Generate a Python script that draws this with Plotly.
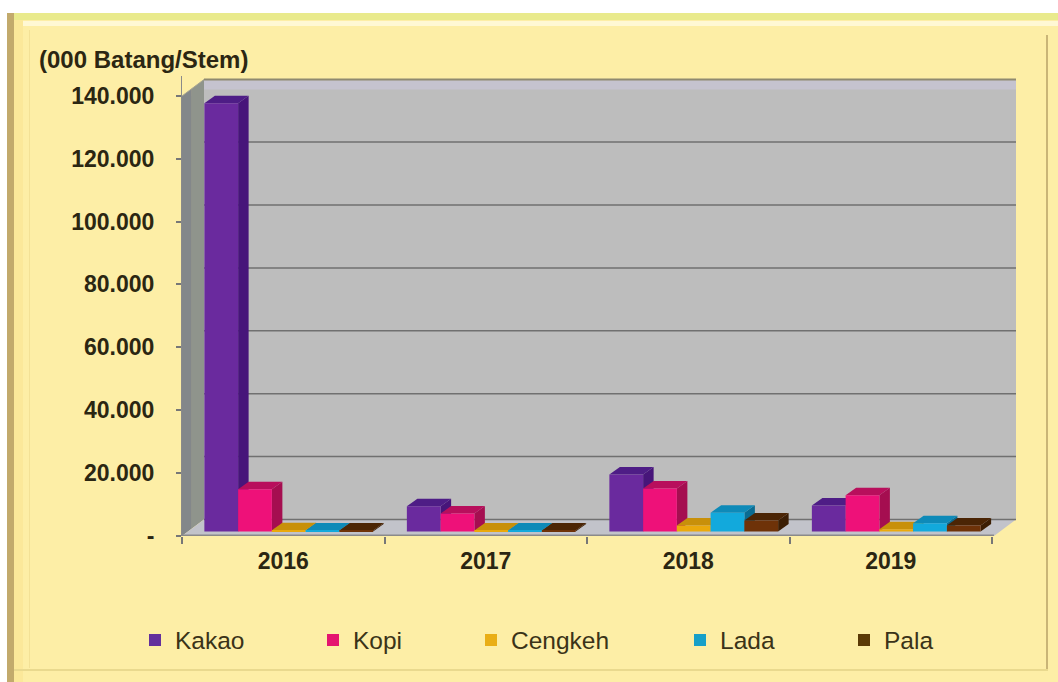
import plotly.graph_objects as go

years = ["2016", "2017", "2018", "2019"]
kakao = [136200, 8000, 18100, 8300]
kopi = [13400, 5700, 13700, 11500]
cengkeh = [400, 300, 1900, 700]
lada = [300, 300, 6000, 2600]
pala = [300, 300, 3500, 1900]
names = ["Kakao", "Kopi", "Cengkeh", "Lada", "Pala"]
series = [kakao, kopi, cengkeh, lada, pala]
front_col = ["#6a2a9e", "#ee1179", "#eaa90c", "#12a9dc", "#6e3208"]
top_col = ["#4e1d86", "#b80f5c", "#c8900a", "#0e8ab8", "#4b2505"]
side_col = ["#47157a", "#a50e50", "#9c7408", "#0a6c92", "#3c1e04"]
legend_col = ["#63309c", "#e4156f", "#e9ae16", "#17a0c8", "#5b3a06"]
y_ticks = [0, 20000, 40000, 60000, 80000, 100000, 120000, 140000]
y_labels = ["-", "20.000", "40.000", "60.000", "80.000", "100.000", "120.000", "140.000"]
unit_label = "(000 Batang/Stem)"

W, H = 1058, 682
L, R, T, B = 182, 1019, 76, 536
CAT_PX = 202.5
Y_PX = 62.9 / 20000
TXT = "#2b2612"


def xu(px):
    return px / CAT_PX


def yu(px):
    return px / Y_PX


def px_paper(px):
    return (px - L) / (R - L)


def py_paper(py):
    return (B - py) / (B - T)


def rect(x0, y0, x1, y1, color):
    return dict(type="rect", xref="paper", yref="paper", layer="below",
                x0=px_paper(x0), x1=px_paper(x1), y0=py_paper(y0), y1=py_paper(y1),
                fillcolor=color, line_width=0)


def poly(points, color, line=None):
    path = "M" + "L".join(f"{a:.5f},{b:.2f}" for a, b in points) + "Z"
    return dict(type="path", xref="x", yref="y", layer="below", path=path,
                fillcolor=color, line=dict(width=0 if line is None else 1, color=line or color))


shapes = [
    rect(7, 13, W, H, "#fdeea6"),
    rect(7, 13, W, 20, "#e9ea8c"),
    rect(14, 21, W, 26, "#fff8d4"),
    rect(7, 13, 14, H, "#c2aa6c"),
    rect(14, 20, 23, H, "#fbe89a"),
    rect(29, 30, 30, 668, "#f3e196"),
    rect(1046, 35, 1048, 670, "#c9b577"),
    rect(14, 669, 1048, 671, "#e9d98e"),
]

DX, DY = xu(22), yu(16.5)
RIGHT = xu(994 - 182)
TOP = yu(536 - 96)

shapes.append(poly([(0, 0), (DX * .45, DY * .45), (DX * .45, TOP + DY * .45), (0, TOP)], "#83878a"))
shapes.append(poly([(DX * .45, DY * .45), (DX, DY), (DX, TOP + DY), (DX * .45, TOP + DY * .45)], "#8f948c"))
shapes.append(poly([(DX, DY), (RIGHT + DX, DY), (RIGHT + DX, TOP + DY), (DX, TOP + DY)], "#bdbdbd"))
shapes.append(poly([(DX, TOP + DY), (RIGHT + DX, TOP + DY), (RIGHT + DX, TOP + DY - yu(10)), (DX, TOP + DY - yu(10))], "#c5c3cf"))
shapes.append(dict(type="line", xref="x", yref="y", layer="below", x0=0, x1=DX, y0=TOP, y1=TOP + DY,
                   line=dict(color="#a8a590", width=1)))
shapes.append(dict(type="line", xref="x", yref="y", layer="below", x0=DX, x1=RIGHT + DX, y0=TOP + DY, y1=TOP + DY,
                   line=dict(color="#8f8a70", width=2)))
shapes.append(poly([(0, 0), (DX, DY), (RIGHT + DX, DY), (RIGHT, 0)], "#c2c3ca"))
for t in y_ticks[:-1]:
    shapes.append(dict(type="line", xref="x", yref="y", layer="below", x0=DX, x1=RIGHT + DX,
                       y0=t + DY, y1=t + DY, line=dict(color="#707070", width=1.5)))
shapes.append(dict(type="line", xref="x", yref="y", layer="below", x0=0, x1=RIGHT, y0=0, y1=0,
                   line=dict(color="#8a8a8a", width=3)))

BAR_W = 1 / 6
GAP = BAR_W / 2
FRONT_DX, FRONT_DY = xu(5.5), yu(4.5)
BAR_DX, BAR_DY = xu(10.5), yu(7.5)

fig = go.Figure()
for s, (name, values) in enumerate(zip(names, series)):
    xs = [c + GAP + (s + 0.5) * BAR_W + FRONT_DX for c in range(len(years))]
    for xc, v in zip(xs, values):
        x0, x1 = xc - BAR_W / 2, xc + BAR_W / 2
        b, h = FRONT_DY, FRONT_DY + v
        shapes.append(poly([(x1, b), (x1 + BAR_DX, b + BAR_DY), (x1 + BAR_DX, h + BAR_DY), (x1, h)], side_col[s]))
        shapes.append(poly([(x0, h), (x0 + BAR_DX, h + BAR_DY), (x1 + BAR_DX, h + BAR_DY), (x1, h)], top_col[s]))
    fig.add_trace(go.Bar(x=xs, y=values, base=FRONT_DY, width=BAR_W, name=name,
                         marker=dict(color=front_col[s], line_width=0),
                         showlegend=False, hovertemplate=name + ": %{y}<extra></extra>"))

legend_text_px = [175, 353, 511, 720, 884]
legend_layouts = {}
for s, (name, px) in enumerate(zip(names, legend_text_px)):
    key = "legend" if s == 0 else f"legend{s + 1}"
    fig.add_trace(go.Scatter(x=[None], y=[None], mode="markers", name=name,
                             marker=dict(symbol="square", size=13, color=legend_col[s]),
                             legend=key, showlegend=True))
    legend_layouts[key] = dict(
        x=px_paper(px - 40), y=py_paper(640), xanchor="left", yanchor="middle",
        bgcolor="rgba(0,0,0,0)", borderwidth=0, itemsizing="constant",
        font=dict(family="Liberation Sans", size=24.5, color="#3a3318"))

fig.update_layout(
    width=W, height=H, autosize=False,
    margin=dict(l=L, r=W - R, t=T, b=H - B, pad=0, autoexpand=False),
    paper_bgcolor="#ffffff", plot_bgcolor="rgba(0,0,0,0)",
    barmode="overlay", shapes=shapes,
    font=dict(family="Liberation Sans", color=TXT),
    xaxis=dict(range=[0, xu(R - L)], tickmode="array", tickvals=[i + 0.5 for i in range(4)], ticktext=years,
               ticks="", showgrid=False, zeroline=False, showline=False,
               ticklabelstandoff=9, tickfont=dict(family="Liberation Sans", size=23, color=TXT, weight="bold"),
               minor=dict(tickmode="array", tickvals=list(range(5)), ticks="outside", ticklen=7,
                          tickcolor="#777777", tickwidth=1.5, showgrid=False)),
    yaxis=dict(range=[0, yu(B - T)], tickmode="array", tickvals=y_ticks, ticktext=y_labels,
               ticks="outside", ticklen=5, tickcolor="#777777", tickwidth=1.5,
               showgrid=False, zeroline=False, showline=True, linecolor="#8a8a8a", linewidth=1,
               ticklabelstandoff=17, tickfont=dict(family="Liberation Sans", size=23, color=TXT, weight="bold")),
    annotations=[dict(text=f"<b>{unit_label}</b>", xref="paper", yref="paper",
                      x=px_paper(37), y=py_paper(60), xanchor="left", yanchor="middle", showarrow=False,
                      font=dict(family="Liberation Sans", size=24, color=TXT))],
    **legend_layouts,
)
fig.write_html("out.html", config={"displayModeBar": False},
               post_script="document.body.style.margin='0';document.body.style.overflow='hidden';")
